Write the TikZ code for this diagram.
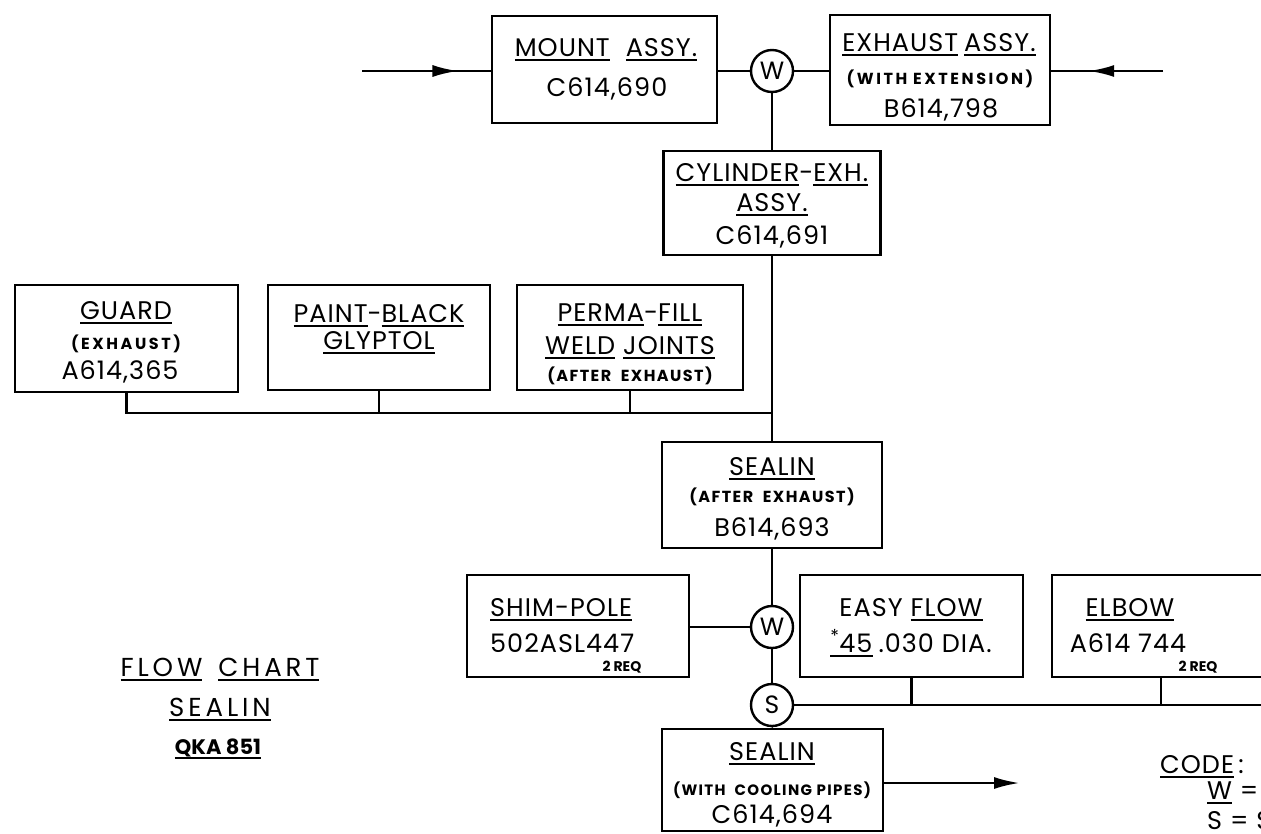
\documentclass[tikz,border=0pt]{standalone}
\usepackage{fontspec}
\setmainfont{Poppins}
\newfontfamily\lrs{Poppins}[LetterSpace=16]
\newfontfamily\lrsn{Poppins}[LetterSpace=9]
\newfontfamily\lrb{Poppins}[LetterSpace=4]
\newfontfamily\lrt{Poppins}[LetterSpace=15]
\usetikzlibrary{arrows.meta,decorations.markings}
\newsavebox\ulbox
\newcommand\ulx[1]{\sbox\ulbox{#1}\rlap{\rule[-4.5pt]{\wd\ulbox}{1.8pt}}\usebox\ulbox}
\tikzset{
  box/.style={draw, line width=2.8pt, inner sep=0pt},
  circ/.style={draw, circle, line width=2.4pt, minimum size=42pt, inner sep=0pt, font=\fontsize{25}{25}\selectfont},
  big/.style={anchor=base, inner sep=0pt, font=\fontsize{25.5}{28}\selectfont\lrb},
  small/.style={anchor=base, inner sep=0pt, font=\fontsize{16}{20}\selectfont\lrs\bfseries},
  smalln/.style={anchor=base, inner sep=0pt, font=\fontsize{16}{20}\selectfont\lrsn\bfseries},
  tiny/.style={anchor=base, inner sep=0pt, font=\fontsize{14}{15}\selectfont\bfseries},
  code/.style={anchor=base, inner sep=0pt, font=\fontsize{21}{24}\selectfont\bfseries},
  ttl/.style={anchor=base, inner sep=0pt, font=\fontsize{26}{30}\selectfont\lrt},
  wire/.style={line width=2.8pt},
  arrowhead/.style={-{Latex[length=26pt,width=12pt]}},
  midarrow/.style={postaction={decorate}, decoration={markings, mark=at position #1 with {\arrow{Latex[length=26pt,width=12pt]}}}}
}
\begin{document}
\begin{tikzpicture}[x=1pt,y=-1pt]
\useasboundingbox (0,0) rectangle (1261,833);
\clip (0,0) rectangle (1261,833);
% boxes
\node[box, minimum width=225pt, minimum height=107pt] (mount) at (604.5,69.5) {};
\node[box, minimum width=220pt, minimum height=110pt] (exhaust) at (940,70) {};
\node[box, minimum width=217pt, minimum height=104pt] (cyl) at (772,203) {};
\node[box, minimum width=223pt, minimum height=107pt] (guard) at (126.5,338.5) {};
\node[box, minimum width=222pt, minimum height=105pt] (paint) at (379,337.5) {};
\node[box, minimum width=226pt, minimum height=105pt] (perma) at (630,337.5) {};
\node[box, minimum width=220pt, minimum height=106pt] (sealA) at (772,495) {};
\node[box, minimum width=222pt, minimum height=102pt] (shim) at (578,626) {};
\node[box, minimum width=223pt, minimum height=102pt] (easy) at (911.5,626) {};
\node[box, minimum width=218pt, minimum height=102pt] (elbow) at (1161,626) {};
\node[box, minimum width=221pt, minimum height=102pt] (sealB) at (772.5,780) {};
% circles
\node[circ] (w1) at (772,71) {W};
\node[circ] (w2) at (772,627) {W};
\node[circ] (s1) at (772,705) {S};
% coordinates
\coordinate (inL) at (362,71);
\coordinate (inR) at (1163,71);
\coordinate (bus) at (772,413);
\coordinate (rend) at (1270,705);
\coordinate (outB) at (1020,783);
% connectors
\draw[wire, midarrow=0.75] (inL) -- (inL -| mount.west);
\draw[wire, midarrow=0.67] (inR) -- (inR -| exhaust.east);
\draw[wire] (w1.west) -- (w1.west -| mount.east);
\draw[wire] (w1.east) -- (w1.east -| exhaust.west);
\draw[wire] (w1.south) -- (cyl.north);
\draw[wire] (cyl.south) -- (sealA.north);
\draw[wire] (guard.south) |- (bus);
\draw[wire] (paint.south) -- (paint.south |- bus);
\draw[wire] (perma.south) -- (perma.south |- bus);
\draw[wire] (sealA.south) -- (w2.north);
\draw[wire] (w2.west) -- (w2.west -| shim.east);
\draw[wire] (w2.south) -- (s1.north);
\draw[wire] (s1.south) -- (sealB.north);
\draw[wire] (s1.east) -- (rend);
\draw[wire] (easy.south) -- (easy.south |- s1.east);
\draw[wire] (elbow.south) -- (elbow.south |- s1.east);
\draw[wire, arrowhead] (sealB.east |- outB) -- (outB);
% texts: mount
\node[big] (t1) at (606,56) {\ulx{MOUNT}\hspace{16pt}\ulx{ASSY.}};
\node[big] (t2) at (607,96) {C614,690};
% exhaust
\node[big] (t3) at (939,51) {\ulx{EXHAUST}\hspace{6pt}\ulx{ASSY.}};
\node[small] (t4) at (940,84) {(WITH EXTENSION)};
\node[big] (t5) at (941,117) {B614,798};
% cylinder
\node[big] (t6) at (772,181) {\ulx{CYLINDER}-\ulx{EXH.}};
\node[big] (t7) at (772,211) {\ulx{ASSY.}};
\node[big] (t8) at (772,244) {C614,691};
% guard
\node[big] (t9) at (126,319) {\ulx{GUARD}};
\node[small] (t10) at (126,349) {(EXHAUST)};
\node[big] (t11) at (120,379) {A614,365};
% paint
\node[big] (t12) at (379,322) {\ulx{PAINT}-\ulx{BLACK}};
\node[big] (t13) at (379,349) {\ulx{GLYPTOL}};
% perma
\node[big] (t14) at (630,321) {\ulx{PERMA}-\ulx{FILL}};
\node[big] (t15) at (630,354) {\ulx{WELD}\hspace{8pt}\ulx{JOINTS}};
\node[smalln] (t16) at (630,381) {(AFTER\ \ EXHAUST)};
% sealin A
\node[big] (t17) at (772,475) {\ulx{SEALIN}};
\node[smalln] (t18) at (772,502) {(AFTER\ \ EXHAUST)};
\node[big] (t19) at (772,536) {B614,693};
% shim
\node[big, anchor=base west] (t20) at (490,616) {\ulx{SHIM-POLE}};
\node[big, anchor=base west] (t21) at (490,652) {502ASL447};
\node[tiny] (t22) at (622,671) {2 REQ};
% easy flow
\node[big] (t23) at (911,616) {EASY\hspace{8pt}\ulx{FLOW}};
\node[big] (t24) at (911,652) {\ulx{\textsuperscript{*}45}\hspace{6pt}.030 DIA.};
% elbow
\node[big] (t25) at (1130,616) {\ulx{ELBOW}};
\node[big] (t26) at (1128,652) {A614 744};
\node[tiny] (t27) at (1198,671) {2 REQ};
% sealin B
\node[big] (t28) at (772,760) {\ulx{SEALIN}};
\node[smalln, font=\fontsize{15}{20}\selectfont\lrsn\bfseries] (t29) at (772,795) {(WITH\ \ COOLING\ PIPES)};
\node[big] (t30) at (772,823) {C614,694};
% title
\node[ttl] (t31) at (220,676) {\ulx{FLOW}\hspace{16pt}\ulx{CHART}};
\node[ttl] (t32) at (220,716) {\ulx{SEALIN}};
\node[code] (t33) at (218,754) {\ulx{QKA 851}};
% code
\node[big, anchor=base west] (t34) at (1160,773) {\ulx{CODE}\,:};
\node[big, anchor=base west] (t35) at (1207,799) {\ulx{W} = \ulx{W}};
\node[big, anchor=base west] (t36) at (1207,829) {S = S};
\end{tikzpicture}
\end{document}
